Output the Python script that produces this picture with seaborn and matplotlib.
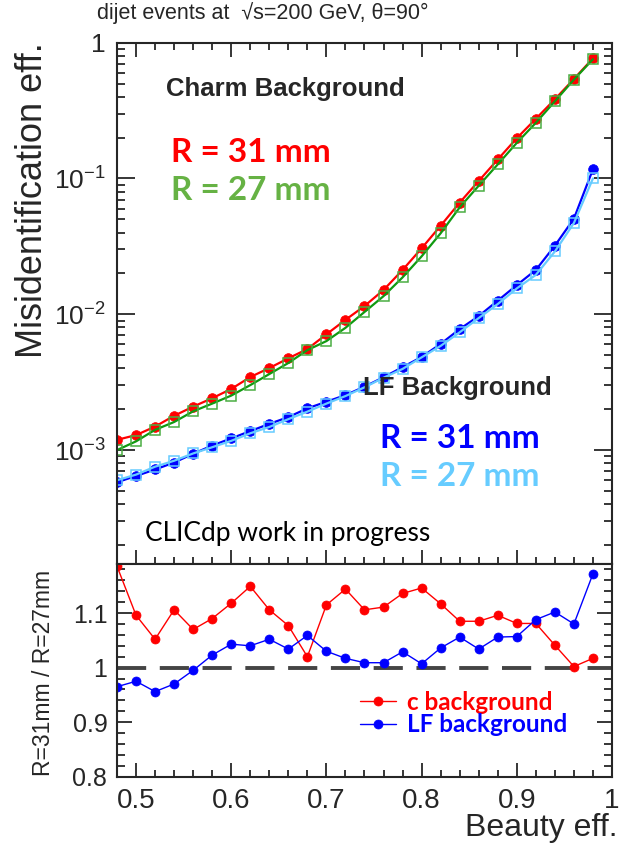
import matplotlib
matplotlib.use("Agg")
import matplotlib.pyplot as plt
import numpy as np
import pandas as pd
import seaborn as sns
from matplotlib.ticker import FixedLocator, FixedFormatter, MultipleLocator, LogLocator, NullFormatter
from matplotlib.font_manager import FontProperties

# b-tag working points (beauty efficiency)
beauty_eff = [0.48, 0.50, 0.52, 0.54, 0.56, 0.58, 0.60, 0.62, 0.64, 0.66, 0.68, 0.70, 0.72,
              0.74, 0.76, 0.78, 0.80, 0.82, 0.84, 0.86, 0.88, 0.90, 0.92, 0.94, 0.96, 0.98]

# charm misidentification efficiency
charm_r31 = [1.19e-3, 1.29e-3, 1.49e-3, 1.79e-3, 2.09e-3, 2.41e-3, 2.82e-3, 3.45e-3, 4.02e-3,
             4.74e-3, 5.55e-3, 7.12e-3, 9.1e-3, 1.15e-2, 1.51e-2, 2.12e-2, 3.06e-2, 4.49e-2,
             6.64e-2, 9.59e-2, 0.138, 0.198, 0.275, 0.383, 0.540, 0.767]
charm_r27 = [1.00e-3, 1.16e-3, 1.41e-3, 1.61e-3, 1.93e-3, 2.20e-3, 2.52e-3, 3.01e-3, 3.63e-3,
             4.38e-3, 5.45e-3, 6.35e-3, 7.95e-3, 1.04e-2, 1.36e-2, 1.87e-2, 2.67e-2, 3.95e-2,
             6.13e-2, 8.85e-2, 0.127, 0.183, 0.257, 0.370, 0.535, 0.755]

# light-flavour misidentification efficiency
lf_r31 = [5.8e-4, 6.45e-4, 7.2e-4, 8.1e-4, 9.4e-4, 1.08e-3, 1.22e-3, 1.38e-3, 1.56e-3,
          1.75e-3, 2.03e-3, 2.27e-3, 2.54e-3, 2.93e-3, 3.44e-3, 4.08e-3, 4.85e-3, 6.05e-3,
          7.78e-3, 9.7e-3, 1.26e-2, 1.64e-2, 2.12e-2, 3.2e-2, 5.06e-2, 0.117]
lf_r27 = [6.0e-4, 6.6e-4, 7.55e-4, 8.35e-4, 9.45e-4, 1.05e-3, 1.17e-3, 1.33e-3, 1.48e-3,
          1.69e-3, 1.92e-3, 2.20e-3, 2.50e-3, 2.90e-3, 3.41e-3, 3.96e-3, 4.82e-3, 5.85e-3,
          7.37e-3, 9.38e-3, 1.19e-2, 1.55e-2, 1.95e-2, 2.90e-2, 4.70e-2, 0.100]

# ratio R=31mm / R=27mm
ratio_charm = [1.186, 1.096, 1.052, 1.106, 1.070, 1.090, 1.118, 1.149, 1.106, 1.077, 1.020,
               1.115, 1.144, 1.106, 1.111, 1.136, 1.146, 1.117, 1.085, 1.085, 1.096, 1.081,
               1.081, 1.041, 1.002, 1.017]
ratio_lf = [0.965, 0.975, 0.956, 0.970, 0.995, 1.023, 1.043, 1.040, 1.052, 1.034, 1.059,
            1.030, 1.017, 1.009, 1.009, 1.029, 1.007, 1.036, 1.056, 1.034, 1.056, 1.057,
            1.088, 1.102, 1.080, 1.172]

log_ticks = [1e-3, 1e-2, 1e-1, 1.0]
log_tick_labels = ["$10^{-3}$", "$10^{-2}$", "$10^{-1}$", "1"]
eff_ticks = [0.5, 0.6, 0.7, 0.8, 0.9, 1.0]
eff_tick_labels = ["0.5", "0.6", "0.7", "0.8", "0.9", "1"]
ratio_ticks = [0.8, 0.9, 1.0, 1.1]
ratio_tick_labels = ["0.8", "0.9", "1", "1.1"]

sns.set_style("ticks")
plt.rcParams["font.family"] = ["Liberation Sans", "DejaVu Sans"]
plt.rcParams["mathtext.fontset"] = "custom"
plt.rcParams["mathtext.rm"] = "Liberation Sans"
plt.rcParams["mathtext.it"] = "Liberation Sans:italic"
plt.rcParams["mathtext.bf"] = "Liberation Sans:bold"
plt.rcParams["axes.linewidth"] = 1.5

df = pd.DataFrame({"eff": beauty_eff, "charm_r31": charm_r31, "charm_r27": charm_r27,
                   "lf_r31": lf_r31, "lf_r27": lf_r27,
                   "ratio_charm": ratio_charm, "ratio_lf": ratio_lf})

W, H = 621, 848
fig = plt.figure(figsize=(W / 100, H / 100), dpi=100)
ax1 = fig.add_axes([0.1884, 0.3349, 0.7971, 0.6148])
ax2 = fig.add_axes([0.1884, 0.0841, 0.7971, 0.2508])

RED = "#ff0000"
GREEN_LINE = "#109a10"
GREEN_MK = "#4aae42"
BLUE = "#0000ff"
LBLUE = "#66ccff"

# --- upper panel: misidentification efficiency ---
sns.lineplot(data=df, x="eff", y="charm_r31", ax=ax1, color=RED, lw=1.6,
             marker="o", markersize=7, markeredgecolor=RED, markeredgewidth=0.5)
sns.lineplot(data=df, x="eff", y="charm_r27", ax=ax1, color=GREEN_LINE, lw=1.6,
             marker="s", markersize=6.5, markerfacecolor="none",
             markeredgecolor=GREEN_MK, markeredgewidth=1.1)
sns.lineplot(data=df, x="eff", y="lf_r31", ax=ax1, color=BLUE, lw=1.6,
             marker="o", markersize=7, markeredgecolor=BLUE, markeredgewidth=0.5)
sns.lineplot(data=df, x="eff", y="lf_r27", ax=ax1, color=LBLUE, lw=1.6,
             marker="s", markersize=6.5, markerfacecolor="none",
             markeredgecolor=LBLUE, markeredgewidth=1.1)

ax1.set_yscale("log")
ax1.set_xlim(0.48, 1.0)
ax1.set_ylim(1.45e-4, 1.0)
ax1.yaxis.set_major_locator(FixedLocator(log_ticks))
ax1.yaxis.set_major_formatter(FixedFormatter(log_tick_labels))
ax1.yaxis.set_minor_locator(LogLocator(base=10, subs=np.arange(2, 10)))
ax1.yaxis.set_minor_formatter(NullFormatter())
ax1.xaxis.set_major_locator(MultipleLocator(0.1))
ax1.xaxis.set_minor_locator(MultipleLocator(0.02))
ax1.tick_params(axis="x", which="both", direction="in", top=True, bottom=True,
                labelbottom=False, width=1.3)
ax1.tick_params(axis="x", which="major", length=10)
ax1.tick_params(axis="x", which="minor", length=5)
ax1.tick_params(axis="y", which="both", direction="in", left=True, right=True, width=1.3)
ax1.tick_params(axis="y", which="major", length=13, labelsize=19, pad=8)
ax1.tick_params(axis="y", which="minor", length=6)
ax1.set_xlabel("")
ax1.set_ylabel("Misidentification eff.", fontsize=26, loc="top")
ax1.yaxis.set_label_coords(-0.135, 1.0)

# --- lower panel: ratio ---
ax2.axhline(1.0, color="#444444", lw=2.8, dashes=(7.5, 3.5), zorder=1)
sns.lineplot(data=df, x="eff", y="ratio_charm", ax=ax2, color=RED, lw=1.0,
             marker="o", markersize=6.5, markeredgecolor=RED, markeredgewidth=0.5,
             label="c background")
sns.lineplot(data=df, x="eff", y="ratio_lf", ax=ax2, color=BLUE, lw=1.0,
             marker="o", markersize=6.5, markeredgecolor=BLUE, markeredgewidth=0.5,
             label="LF background")
ax2.set_xlim(0.48, 1.0)
ax2.set_ylim(0.8, 1.19)
ax2.xaxis.set_major_locator(FixedLocator(eff_ticks))
ax2.xaxis.set_major_formatter(FixedFormatter(eff_tick_labels))
ax2.xaxis.set_minor_locator(MultipleLocator(0.02))
ax2.yaxis.set_major_locator(FixedLocator(ratio_ticks))
ax2.yaxis.set_major_formatter(FixedFormatter(ratio_tick_labels))
ax2.yaxis.set_minor_locator(MultipleLocator(0.02))
ax2.tick_params(axis="x", which="both", direction="in", top=False, bottom=True, width=1.3)
ax2.tick_params(axis="x", which="major", length=10, labelsize=20, pad=8)
ax2.tick_params(axis="x", which="minor", length=5)
ax2.tick_params(axis="y", which="both", direction="in", left=True, right=True, width=1.3)
ax2.tick_params(axis="y", which="major", length=11, labelsize=18, pad=7)
ax2.tick_params(axis="y", which="minor", length=6)
ax2.set_xlabel("Beauty eff.", fontsize=23, loc="right")
ax2.xaxis.set_label_coords(1.012, -0.17)
ax2.set_ylabel("R=31mm / R=27mm", fontsize=16.5)
ax2.yaxis.set_label_coords(-0.125, 0.49)

leg = ax2.legend(loc="upper left", bbox_to_anchor=(0.491, 0.405), frameon=False,
                 prop=FontProperties(family=["Lato", "DejaVu Sans"], weight="bold", size=17.5),
                 labelcolor=[RED, BLUE], handlelength=1.5, handletextpad=0.45,
                 labelspacing=-0.02, borderpad=0.0, borderaxespad=0.0)


def ftext(x, y, s, **kw):
    fig.text(x / W, 1 - y / H, s, **kw)


# headline and annotations
ftext(97, 19, "dijet events at  √s=200 GeV, θ=90°",
      fontsize=15.5, ha="left", va="baseline")
calibri = ["Lato", "DejaVu Sans"]
ftext(166, 89, "Charm Background", fontsize=18.5, fontweight="bold", ha="left", va="center")
ftext(171, 153, "R = 31 mm", fontsize=24, fontweight="bold", color=RED,
      family=calibri, ha="left", va="center")
ftext(171, 190, "R = 27 mm", fontsize=24, fontweight="bold", color="#66b244",
      family=calibri, ha="left", va="center")
ftext(363, 388, "LF Background", fontsize=18.5, fontweight="bold", ha="left", va="center")
ftext(380, 438, "R = 31 mm", fontsize=24, fontweight="bold", color=BLUE,
      family=calibri, ha="left", va="center")
ftext(380, 477, "R = 27 mm", fontsize=24, fontweight="bold", color=LBLUE,
      family=calibri, ha="left", va="center")
ftext(145, 533, "CLICdp work in progress", fontsize=19, color="black",
      family=calibri, ha="left", va="center")

fig.savefig("out.png", dpi=100)
